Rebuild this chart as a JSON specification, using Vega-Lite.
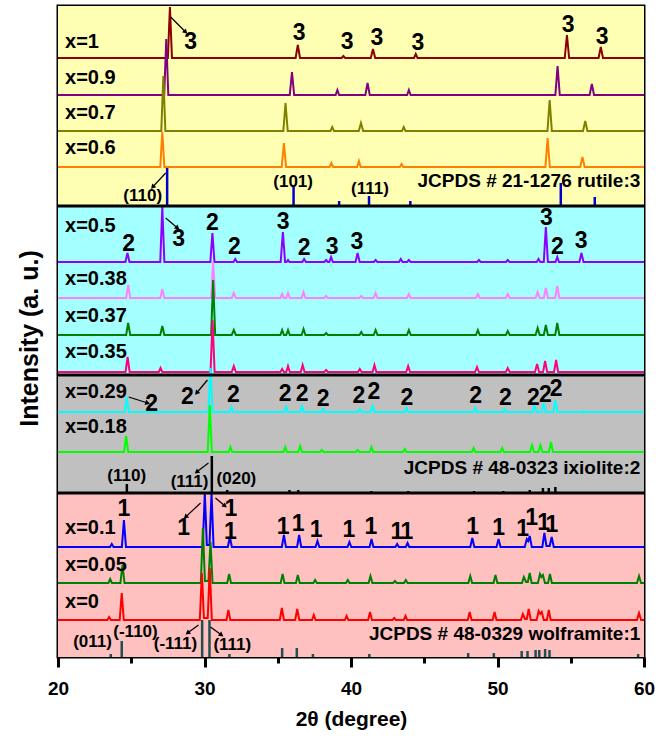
{
"$schema": "https://vega.github.io/schema/vega-lite/v6.json",
"width": 586, "height": 651,
"autosize": {"type": "none"},
"padding": {"left": 58, "top": 6, "right": 23, "bottom": 86},
"background": "white",
"config": {"view": {"stroke": "black", "strokeWidth": 3}, "font": "Liberation Sans"},
"datasets": {
"bands": [
{"band":"y","t":20,"t2":60,"i":474,"i2":674},
{"band":"c","t":20,"t2":60,"i":305,"i2":474},
{"band":"g","t":20,"t2":60,"i":187,"i2":305},
{"band":"p","t":20,"t2":60,"i":23,"i2":187}],
"seps": [
{"t":20,"t2":60,"i":474},{"t":20,"t2":60,"i":305},{"t":20,"t2":60,"i":187}],
"sticks": [
{"ref":"r","t":27.45,"i":474,"i2":512},{"ref":"r","t":36.08,"i":474,"i2":495},{"ref":"r","t":39.19,"i":474,"i2":479},{"ref":"r","t":41.23,"i":474,"i2":484},{"ref":"r","t":44.05,"i":474,"i2":479},{"ref":"r","t":54.32,"i":474,"i2":497},{"ref":"r","t":56.64,"i":474,"i2":483},
{"ref":"i","t":24.7,"i":187,"i2":196},{"ref":"i","t":30.5,"i":187,"i2":224},{"ref":"i","t":31.55,"i":187,"i2":190},{"ref":"i","t":35.8,"i":187,"i2":190},{"ref":"i","t":36.4,"i":187,"i2":190},{"ref":"i","t":41.4,"i":187,"i2":189},{"ref":"i","t":43.9,"i":187,"i2":189},{"ref":"i","t":48.4,"i":187,"i2":189},{"ref":"i","t":50.4,"i":187,"i2":189},{"ref":"i","t":52.2,"i":187,"i2":190},{"ref":"i","t":53.1,"i":187,"i2":192},{"ref":"i","t":53.5,"i":187,"i2":192},{"ref":"i","t":53.95,"i":187,"i2":193},
{"ref":"w","t":23.6,"i":23,"i2":26},{"ref":"w","t":24.35,"i":23,"i2":39},{"ref":"w","t":29.84,"i":23,"i2":60},{"ref":"w","t":30.34,"i":23,"i2":60},{"ref":"w","t":31.7,"i":23,"i2":26},{"ref":"w","t":35.3,"i":23,"i2":32},{"ref":"w","t":36.3,"i":23,"i2":32},{"ref":"w","t":37.4,"i":23,"i2":26},{"ref":"w","t":41.25,"i":23,"i2":26},{"ref":"w","t":48.0,"i":23,"i2":27},{"ref":"w","t":49.75,"i":23,"i2":27},{"ref":"w","t":51.65,"i":23,"i2":29},{"ref":"w","t":52.05,"i":23,"i2":29},{"ref":"w","t":52.6,"i":23,"i2":30},{"ref":"w","t":52.85,"i":23,"i2":30},{"ref":"w","t":53.25,"i":23,"i2":31},{"ref":"w","t":53.55,"i":23,"i2":30},{"ref":"w","t":59.6,"i":23,"i2":26}],
"traces": [
{"s":"x=1","t":20,"i":622},{"s":"x=1","t":27.5,"i":622},{"s":"x=1","t":27.64,"i":673},{"s":"x=1","t":27.78,"i":622},{"s":"x=1","t":36.22,"i":622},{"s":"x=1","t":36.37,"i":635},{"s":"x=1","t":36.52,"i":622},{"s":"x=1","t":39.36,"i":622},{"s":"x=1","t":39.48,"i":624},{"s":"x=1","t":39.6,"i":622},{"s":"x=1","t":41.35,"i":622},{"s":"x=1","t":41.5,"i":631},{"s":"x=1","t":41.65,"i":622},{"s":"x=1","t":44.3,"i":622},{"s":"x=1","t":44.42,"i":626},{"s":"x=1","t":44.54,"i":622},{"s":"x=1","t":54.59,"i":622},{"s":"x=1","t":54.74,"i":645},{"s":"x=1","t":54.89,"i":622},{"s":"x=1","t":56.9,"i":622},{"s":"x=1","t":57.05,"i":633},{"s":"x=1","t":57.2,"i":622},{"s":"x=1","t":60,"i":622},
{"s":"x=0.9","t":20,"i":585},{"s":"x=0.9","t":27.25,"i":585},{"s":"x=0.9","t":27.39,"i":641},{"s":"x=0.9","t":27.53,"i":585},{"s":"x=0.9","t":35.82,"i":585},{"s":"x=0.9","t":35.97,"i":608},{"s":"x=0.9","t":36.12,"i":585},{"s":"x=0.9","t":38.95,"i":585},{"s":"x=0.9","t":39.07,"i":590},{"s":"x=0.9","t":39.19,"i":585},{"s":"x=0.9","t":40.98,"i":585},{"s":"x=0.9","t":41.13,"i":597},{"s":"x=0.9","t":41.28,"i":585},{"s":"x=0.9","t":43.83,"i":585},{"s":"x=0.9","t":43.95,"i":590},{"s":"x=0.9","t":44.07,"i":585},{"s":"x=0.9","t":53.95,"i":585},{"s":"x=0.9","t":54.1,"i":614},{"s":"x=0.9","t":54.25,"i":585},{"s":"x=0.9","t":56.29,"i":585},{"s":"x=0.9","t":56.44,"i":596},{"s":"x=0.9","t":56.59,"i":585},{"s":"x=0.9","t":60,"i":585},
{"s":"x=0.7","t":20,"i":549},{"s":"x=0.7","t":27.05,"i":549},{"s":"x=0.7","t":27.19,"i":604},{"s":"x=0.7","t":27.33,"i":549},{"s":"x=0.7","t":35.38,"i":549},{"s":"x=0.7","t":35.53,"i":577},{"s":"x=0.7","t":35.68,"i":549},{"s":"x=0.7","t":38.6,"i":549},{"s":"x=0.7","t":38.72,"i":553},{"s":"x=0.7","t":38.84,"i":549},{"s":"x=0.7","t":40.53,"i":549},{"s":"x=0.7","t":40.68,"i":557},{"s":"x=0.7","t":40.83,"i":549},{"s":"x=0.7","t":43.48,"i":549},{"s":"x=0.7","t":43.6,"i":553},{"s":"x=0.7","t":43.72,"i":549},{"s":"x=0.7","t":53.41,"i":549},{"s":"x=0.7","t":53.56,"i":580},{"s":"x=0.7","t":53.71,"i":549},{"s":"x=0.7","t":55.84,"i":549},{"s":"x=0.7","t":55.99,"i":559},{"s":"x=0.7","t":56.14,"i":549},{"s":"x=0.7","t":60,"i":549},
{"s":"x=0.6","t":20,"i":513},{"s":"x=0.6","t":26.98,"i":513},{"s":"x=0.6","t":27.12,"i":548},{"s":"x=0.6","t":27.26,"i":513},{"s":"x=0.6","t":35.27,"i":513},{"s":"x=0.6","t":35.42,"i":537},{"s":"x=0.6","t":35.57,"i":513},{"s":"x=0.6","t":38.54,"i":513},{"s":"x=0.6","t":38.66,"i":517},{"s":"x=0.6","t":38.78,"i":513},{"s":"x=0.6","t":40.42,"i":513},{"s":"x=0.6","t":40.54,"i":519},{"s":"x=0.6","t":40.66,"i":513},{"s":"x=0.6","t":43.33,"i":513},{"s":"x=0.6","t":43.45,"i":516},{"s":"x=0.6","t":43.57,"i":513},{"s":"x=0.6","t":53.27,"i":513},{"s":"x=0.6","t":53.42,"i":542},{"s":"x=0.6","t":53.57,"i":513},{"s":"x=0.6","t":55.65,"i":513},{"s":"x=0.6","t":55.8,"i":523},{"s":"x=0.6","t":55.95,"i":513},{"s":"x=0.6","t":60,"i":513},
{"s":"x=0.5","t":20,"i":418},{"s":"x=0.5","t":24.6,"i":418},{"s":"x=0.5","t":24.74,"i":427},{"s":"x=0.5","t":24.88,"i":418},{"s":"x=0.5","t":26.98,"i":418},{"s":"x=0.5","t":27.12,"i":473},{"s":"x=0.5","t":27.26,"i":418},{"s":"x=0.5","t":30.4,"i":418},{"s":"x=0.5","t":30.54,"i":447},{"s":"x=0.5","t":30.68,"i":418},{"s":"x=0.5","t":31.98,"i":418},{"s":"x=0.5","t":32.1,"i":421},{"s":"x=0.5","t":32.22,"i":418},{"s":"x=0.5","t":35.2,"i":418},{"s":"x=0.5","t":35.35,"i":448},{"s":"x=0.5","t":35.5,"i":418},{"s":"x=0.5","t":35.6,"i":418},{"s":"x=0.5","t":35.7,"i":420},{"s":"x=0.5","t":35.8,"i":418},{"s":"x=0.5","t":36.68,"i":418},{"s":"x=0.5","t":36.8,"i":421},{"s":"x=0.5","t":36.92,"i":418},{"s":"x=0.5","t":38.18,"i":418},{"s":"x=0.5","t":38.3,"i":420},{"s":"x=0.5","t":38.42,"i":418},{"s":"x=0.5","t":38.52,"i":418},{"s":"x=0.5","t":38.64,"i":423},{"s":"x=0.5","t":38.76,"i":418},{"s":"x=0.5","t":40.31,"i":418},{"s":"x=0.5","t":40.45,"i":427},{"s":"x=0.5","t":40.59,"i":418},{"s":"x=0.5","t":41.56,"i":418},{"s":"x=0.5","t":41.68,"i":420},{"s":"x=0.5","t":41.8,"i":418},{"s":"x=0.5","t":43.28,"i":418},{"s":"x=0.5","t":43.4,"i":421},{"s":"x=0.5","t":43.52,"i":418},{"s":"x=0.5","t":43.83,"i":418},{"s":"x=0.5","t":43.95,"i":420},{"s":"x=0.5","t":44.07,"i":418},{"s":"x=0.5","t":48.61,"i":418},{"s":"x=0.5","t":48.73,"i":420},{"s":"x=0.5","t":48.85,"i":418},{"s":"x=0.5","t":50.58,"i":418},{"s":"x=0.5","t":50.7,"i":420},{"s":"x=0.5","t":50.82,"i":418},{"s":"x=0.5","t":52.68,"i":418},{"s":"x=0.5","t":52.8,"i":421},{"s":"x=0.5","t":52.92,"i":418},{"s":"x=0.5","t":53.16,"i":418},{"s":"x=0.5","t":53.3,"i":453},{"s":"x=0.5","t":53.44,"i":418},{"s":"x=0.5","t":53.96,"i":418},{"s":"x=0.5","t":54.08,"i":423},{"s":"x=0.5","t":54.2,"i":418},{"s":"x=0.5","t":55.59,"i":418},{"s":"x=0.5","t":55.73,"i":427},{"s":"x=0.5","t":55.87,"i":418},{"s":"x=0.5","t":60,"i":418},
{"s":"x=0.38","t":20,"i":382},{"s":"x=0.38","t":24.65,"i":382},{"s":"x=0.38","t":24.79,"i":395},{"s":"x=0.38","t":24.93,"i":382},{"s":"x=0.38","t":26.98,"i":382},{"s":"x=0.38","t":27.12,"i":391},{"s":"x=0.38","t":27.26,"i":382},{"s":"x=0.38","t":30.45,"i":382},{"s":"x=0.38","t":30.59,"i":418},{"s":"x=0.38","t":30.73,"i":382},{"s":"x=0.38","t":31.86,"i":382},{"s":"x=0.38","t":32.0,"i":387},{"s":"x=0.38","t":32.14,"i":382},{"s":"x=0.38","t":35.18,"i":382},{"s":"x=0.38","t":35.3,"i":386},{"s":"x=0.38","t":35.42,"i":382},{"s":"x=0.38","t":35.58,"i":382},{"s":"x=0.38","t":35.7,"i":387},{"s":"x=0.38","t":35.82,"i":382},{"s":"x=0.38","t":36.63,"i":382},{"s":"x=0.38","t":36.76,"i":388},{"s":"x=0.38","t":36.89,"i":382},{"s":"x=0.38","t":38.18,"i":382},{"s":"x=0.38","t":38.3,"i":384},{"s":"x=0.38","t":38.42,"i":382},{"s":"x=0.38","t":40.58,"i":382},{"s":"x=0.38","t":40.7,"i":384},{"s":"x=0.38","t":40.82,"i":382},{"s":"x=0.38","t":41.55,"i":382},{"s":"x=0.38","t":41.68,"i":387},{"s":"x=0.38","t":41.81,"i":382},{"s":"x=0.38","t":43.82,"i":382},{"s":"x=0.38","t":43.95,"i":386},{"s":"x=0.38","t":44.08,"i":382},{"s":"x=0.38","t":48.53,"i":382},{"s":"x=0.38","t":48.66,"i":386},{"s":"x=0.38","t":48.79,"i":382},{"s":"x=0.38","t":50.57,"i":382},{"s":"x=0.38","t":50.7,"i":386},{"s":"x=0.38","t":50.83,"i":382},{"s":"x=0.38","t":52.6,"i":382},{"s":"x=0.38","t":52.74,"i":388},{"s":"x=0.38","t":52.88,"i":382},{"s":"x=0.38","t":53.16,"i":382},{"s":"x=0.38","t":53.3,"i":392},{"s":"x=0.38","t":53.44,"i":382},{"s":"x=0.38","t":53.94,"i":382},{"s":"x=0.38","t":54.08,"i":394},{"s":"x=0.38","t":54.22,"i":382},{"s":"x=0.38","t":60,"i":382},
{"s":"x=0.37","t":20,"i":345},{"s":"x=0.37","t":24.65,"i":345},{"s":"x=0.37","t":24.79,"i":357},{"s":"x=0.37","t":24.93,"i":345},{"s":"x=0.37","t":26.98,"i":345},{"s":"x=0.37","t":27.12,"i":354},{"s":"x=0.37","t":27.26,"i":345},{"s":"x=0.37","t":30.45,"i":345},{"s":"x=0.37","t":30.59,"i":400},{"s":"x=0.37","t":30.73,"i":345},{"s":"x=0.37","t":31.86,"i":345},{"s":"x=0.37","t":32.0,"i":350},{"s":"x=0.37","t":32.14,"i":345},{"s":"x=0.37","t":35.18,"i":345},{"s":"x=0.37","t":35.3,"i":350},{"s":"x=0.37","t":35.42,"i":345},{"s":"x=0.37","t":35.58,"i":345},{"s":"x=0.37","t":35.7,"i":350},{"s":"x=0.37","t":35.82,"i":345},{"s":"x=0.37","t":36.63,"i":345},{"s":"x=0.37","t":36.76,"i":351},{"s":"x=0.37","t":36.89,"i":345},{"s":"x=0.37","t":38.18,"i":345},{"s":"x=0.37","t":38.3,"i":347},{"s":"x=0.37","t":38.42,"i":345},{"s":"x=0.37","t":40.58,"i":345},{"s":"x=0.37","t":40.7,"i":348},{"s":"x=0.37","t":40.82,"i":345},{"s":"x=0.37","t":41.55,"i":345},{"s":"x=0.37","t":41.68,"i":350},{"s":"x=0.37","t":41.81,"i":345},{"s":"x=0.37","t":43.82,"i":345},{"s":"x=0.37","t":43.95,"i":350},{"s":"x=0.37","t":44.08,"i":345},{"s":"x=0.37","t":48.53,"i":345},{"s":"x=0.37","t":48.66,"i":350},{"s":"x=0.37","t":48.79,"i":345},{"s":"x=0.37","t":50.57,"i":345},{"s":"x=0.37","t":50.7,"i":349},{"s":"x=0.37","t":50.83,"i":345},{"s":"x=0.37","t":52.6,"i":345},{"s":"x=0.37","t":52.74,"i":352},{"s":"x=0.37","t":52.88,"i":345},{"s":"x=0.37","t":53.16,"i":345},{"s":"x=0.37","t":53.3,"i":355},{"s":"x=0.37","t":53.44,"i":345},{"s":"x=0.37","t":53.94,"i":345},{"s":"x=0.37","t":54.08,"i":357},{"s":"x=0.37","t":54.22,"i":345},{"s":"x=0.37","t":60,"i":345},
{"s":"x=0.35","t":20,"i":308},{"s":"x=0.35","t":24.61,"i":308},{"s":"x=0.35","t":24.75,"i":323},{"s":"x=0.35","t":24.89,"i":308},{"s":"x=0.35","t":26.88,"i":308},{"s":"x=0.35","t":27.0,"i":312},{"s":"x=0.35","t":27.12,"i":308},{"s":"x=0.35","t":30.41,"i":308},{"s":"x=0.35","t":30.55,"i":360},{"s":"x=0.35","t":30.69,"i":308},{"s":"x=0.35","t":31.86,"i":308},{"s":"x=0.35","t":32.0,"i":314},{"s":"x=0.35","t":32.14,"i":308},{"s":"x=0.35","t":35.18,"i":308},{"s":"x=0.35","t":35.3,"i":311},{"s":"x=0.35","t":35.42,"i":308},{"s":"x=0.35","t":35.58,"i":308},{"s":"x=0.35","t":35.7,"i":314},{"s":"x=0.35","t":35.82,"i":308},{"s":"x=0.35","t":36.57,"i":308},{"s":"x=0.35","t":36.7,"i":315},{"s":"x=0.35","t":36.83,"i":308},{"s":"x=0.35","t":38.18,"i":308},{"s":"x=0.35","t":38.3,"i":310},{"s":"x=0.35","t":38.42,"i":308},{"s":"x=0.35","t":40.48,"i":308},{"s":"x=0.35","t":40.6,"i":311},{"s":"x=0.35","t":40.72,"i":308},{"s":"x=0.35","t":41.47,"i":308},{"s":"x=0.35","t":41.6,"i":315},{"s":"x=0.35","t":41.73,"i":308},{"s":"x=0.35","t":43.77,"i":308},{"s":"x=0.35","t":43.9,"i":314},{"s":"x=0.35","t":44.03,"i":308},{"s":"x=0.35","t":48.47,"i":308},{"s":"x=0.35","t":48.6,"i":313},{"s":"x=0.35","t":48.73,"i":308},{"s":"x=0.35","t":50.57,"i":308},{"s":"x=0.35","t":50.7,"i":312},{"s":"x=0.35","t":50.83,"i":308},{"s":"x=0.35","t":52.56,"i":308},{"s":"x=0.35","t":52.7,"i":316},{"s":"x=0.35","t":52.84,"i":308},{"s":"x=0.35","t":53.11,"i":308},{"s":"x=0.35","t":53.25,"i":319},{"s":"x=0.35","t":53.39,"i":308},{"s":"x=0.35","t":53.86,"i":308},{"s":"x=0.35","t":54.0,"i":320},{"s":"x=0.35","t":54.14,"i":308},{"s":"x=0.35","t":60,"i":308},
{"s":"x=0.29","t":20,"i":268},{"s":"x=0.29","t":24.56,"i":268},{"s":"x=0.29","t":24.7,"i":283},{"s":"x=0.29","t":24.84,"i":268},{"s":"x=0.29","t":30.27,"i":268},{"s":"x=0.29","t":30.41,"i":312},{"s":"x=0.29","t":30.55,"i":268},{"s":"x=0.29","t":31.72,"i":268},{"s":"x=0.29","t":31.84,"i":273},{"s":"x=0.29","t":31.96,"i":268},{"s":"x=0.29","t":35.46,"i":268},{"s":"x=0.29","t":35.58,"i":273},{"s":"x=0.29","t":35.7,"i":268},{"s":"x=0.29","t":36.52,"i":268},{"s":"x=0.29","t":36.65,"i":274},{"s":"x=0.29","t":36.78,"i":268},{"s":"x=0.29","t":37.98,"i":268},{"s":"x=0.29","t":38.1,"i":271},{"s":"x=0.29","t":38.22,"i":268},{"s":"x=0.29","t":40.48,"i":268},{"s":"x=0.29","t":40.6,"i":271},{"s":"x=0.29","t":40.72,"i":268},{"s":"x=0.29","t":41.34,"i":268},{"s":"x=0.29","t":41.47,"i":274},{"s":"x=0.29","t":41.6,"i":268},{"s":"x=0.29","t":43.67,"i":268},{"s":"x=0.29","t":43.79,"i":272},{"s":"x=0.29","t":43.91,"i":268},{"s":"x=0.29","t":48.36,"i":268},{"s":"x=0.29","t":48.48,"i":272},{"s":"x=0.29","t":48.6,"i":268},{"s":"x=0.29","t":50.38,"i":268},{"s":"x=0.29","t":50.5,"i":271},{"s":"x=0.29","t":50.62,"i":268},{"s":"x=0.29","t":52.39,"i":268},{"s":"x=0.29","t":52.52,"i":275},{"s":"x=0.29","t":52.65,"i":268},{"s":"x=0.29","t":53.02,"i":268},{"s":"x=0.29","t":53.15,"i":277},{"s":"x=0.29","t":53.28,"i":268},{"s":"x=0.29","t":53.81,"i":268},{"s":"x=0.29","t":53.95,"i":280},{"s":"x=0.29","t":54.09,"i":268},{"s":"x=0.29","t":55.78,"i":268},{"s":"x=0.29","t":55.88,"i":269},{"s":"x=0.29","t":55.98,"i":268},{"s":"x=0.29","t":60,"i":268},
{"s":"x=0.18","t":20,"i":228},{"s":"x=0.18","t":24.51,"i":228},{"s":"x=0.18","t":24.65,"i":244},{"s":"x=0.18","t":24.79,"i":228},{"s":"x=0.18","t":30.22,"i":228},{"s":"x=0.18","t":30.36,"i":275},{"s":"x=0.18","t":30.5,"i":228},{"s":"x=0.18","t":31.65,"i":228},{"s":"x=0.18","t":31.77,"i":233},{"s":"x=0.18","t":31.89,"i":228},{"s":"x=0.18","t":35.39,"i":228},{"s":"x=0.18","t":35.51,"i":233},{"s":"x=0.18","t":35.63,"i":228},{"s":"x=0.18","t":36.4,"i":228},{"s":"x=0.18","t":36.53,"i":234},{"s":"x=0.18","t":36.66,"i":228},{"s":"x=0.18","t":37.88,"i":228},{"s":"x=0.18","t":38.0,"i":230},{"s":"x=0.18","t":38.12,"i":228},{"s":"x=0.18","t":40.33,"i":228},{"s":"x=0.18","t":40.45,"i":230},{"s":"x=0.18","t":40.57,"i":228},{"s":"x=0.18","t":41.28,"i":228},{"s":"x=0.18","t":41.4,"i":233},{"s":"x=0.18","t":41.52,"i":228},{"s":"x=0.18","t":43.55,"i":228},{"s":"x=0.18","t":43.67,"i":231},{"s":"x=0.18","t":43.79,"i":228},{"s":"x=0.18","t":48.25,"i":228},{"s":"x=0.18","t":48.37,"i":232},{"s":"x=0.18","t":48.49,"i":228},{"s":"x=0.18","t":50.2,"i":228},{"s":"x=0.18","t":50.32,"i":232},{"s":"x=0.18","t":50.44,"i":228},{"s":"x=0.18","t":52.22,"i":228},{"s":"x=0.18","t":52.36,"i":235},{"s":"x=0.18","t":52.5,"i":228},{"s":"x=0.18","t":52.79,"i":228},{"s":"x=0.18","t":52.93,"i":235},{"s":"x=0.18","t":53.07,"i":228},{"s":"x=0.18","t":53.51,"i":228},{"s":"x=0.18","t":53.65,"i":238},{"s":"x=0.18","t":53.79,"i":228},{"s":"x=0.18","t":60,"i":228},
{"s":"x=0.1","t":20,"i":133},{"s":"x=0.1","t":23.55,"i":133},{"s":"x=0.1","t":23.67,"i":136},{"s":"x=0.1","t":23.79,"i":133},{"s":"x=0.1","t":24.36,"i":133},{"s":"x=0.1","t":24.5,"i":160},{"s":"x=0.1","t":24.64,"i":133},{"s":"x=0.1","t":29.88,"i":133},{"s":"x=0.1","t":30.02,"i":187},{"s":"x=0.1","t":30.16,"i":135},{"s":"x=0.1","t":30.34,"i":135},{"s":"x=0.1","t":30.48,"i":187},{"s":"x=0.1","t":30.62,"i":133},{"s":"x=0.1","t":31.59,"i":133},{"s":"x=0.1","t":31.73,"i":143},{"s":"x=0.1","t":31.87,"i":133},{"s":"x=0.1","t":35.28,"i":133},{"s":"x=0.1","t":35.42,"i":145},{"s":"x=0.1","t":35.56,"i":133},{"s":"x=0.1","t":36.32,"i":133},{"s":"x=0.1","t":36.46,"i":145},{"s":"x=0.1","t":36.6,"i":133},{"s":"x=0.1","t":37.58,"i":133},{"s":"x=0.1","t":37.71,"i":139},{"s":"x=0.1","t":37.84,"i":133},{"s":"x=0.1","t":39.76,"i":133},{"s":"x=0.1","t":39.89,"i":138},{"s":"x=0.1","t":40.02,"i":133},{"s":"x=0.1","t":41.27,"i":133},{"s":"x=0.1","t":41.4,"i":141},{"s":"x=0.1","t":41.53,"i":133},{"s":"x=0.1","t":43.03,"i":133},{"s":"x=0.1","t":43.15,"i":136},{"s":"x=0.1","t":43.27,"i":133},{"s":"x=0.1","t":43.74,"i":133},{"s":"x=0.1","t":43.86,"i":137},{"s":"x=0.1","t":43.98,"i":133},{"s":"x=0.1","t":48.14,"i":133},{"s":"x=0.1","t":48.28,"i":142},{"s":"x=0.1","t":48.42,"i":133},{"s":"x=0.1","t":49.93,"i":133},{"s":"x=0.1","t":50.07,"i":141},{"s":"x=0.1","t":50.21,"i":133},{"s":"x=0.1","t":51.86,"i":133},{"s":"x=0.1","t":52.0,"i":141},{"s":"x=0.1","t":52.1,"i":139},{"s":"x=0.1","t":52.2,"i":144},{"s":"x=0.1","t":52.34,"i":133},{"s":"x=0.1","t":53.06,"i":133},{"s":"x=0.1","t":53.2,"i":147},{"s":"x=0.1","t":53.34,"i":134},{"s":"x=0.1","t":53.56,"i":134},{"s":"x=0.1","t":53.7,"i":143},{"s":"x=0.1","t":53.84,"i":133},{"s":"x=0.1","t":60,"i":133},
{"s":"x=0.05","t":20,"i":97},{"s":"x=0.05","t":23.44,"i":97},{"s":"x=0.05","t":23.56,"i":101},{"s":"x=0.05","t":23.68,"i":97},{"s":"x=0.05","t":24.26,"i":97},{"s":"x=0.05","t":24.4,"i":115},{"s":"x=0.05","t":24.54,"i":97},{"s":"x=0.05","t":29.75,"i":97},{"s":"x=0.05","t":29.89,"i":152},{"s":"x=0.05","t":30.03,"i":99},{"s":"x=0.05","t":30.27,"i":99},{"s":"x=0.05","t":30.41,"i":138},{"s":"x=0.05","t":30.55,"i":97},{"s":"x=0.05","t":31.55,"i":97},{"s":"x=0.05","t":31.68,"i":106},{"s":"x=0.05","t":31.81,"i":97},{"s":"x=0.05","t":35.2,"i":97},{"s":"x=0.05","t":35.33,"i":106},{"s":"x=0.05","t":35.46,"i":97},{"s":"x=0.05","t":36.24,"i":97},{"s":"x=0.05","t":36.37,"i":105},{"s":"x=0.05","t":36.5,"i":97},{"s":"x=0.05","t":37.43,"i":97},{"s":"x=0.05","t":37.55,"i":100},{"s":"x=0.05","t":37.67,"i":97},{"s":"x=0.05","t":39.66,"i":97},{"s":"x=0.05","t":39.78,"i":100},{"s":"x=0.05","t":39.9,"i":97},{"s":"x=0.05","t":41.2,"i":97},{"s":"x=0.05","t":41.33,"i":104},{"s":"x=0.05","t":41.46,"i":97},{"s":"x=0.05","t":42.88,"i":97},{"s":"x=0.05","t":43.0,"i":99},{"s":"x=0.05","t":43.12,"i":97},{"s":"x=0.05","t":43.62,"i":97},{"s":"x=0.05","t":43.74,"i":100},{"s":"x=0.05","t":43.86,"i":97},{"s":"x=0.05","t":48.01,"i":97},{"s":"x=0.05","t":48.14,"i":104},{"s":"x=0.05","t":48.27,"i":97},{"s":"x=0.05","t":49.73,"i":97},{"s":"x=0.05","t":49.86,"i":105},{"s":"x=0.05","t":49.99,"i":97},{"s":"x=0.05","t":51.67,"i":97},{"s":"x=0.05","t":51.8,"i":103},{"s":"x=0.05","t":51.95,"i":98},{"s":"x=0.05","t":52.07,"i":98},{"s":"x=0.05","t":52.2,"i":107},{"s":"x=0.05","t":52.33,"i":97},{"s":"x=0.05","t":52.76,"i":97},{"s":"x=0.05","t":52.9,"i":106},{"s":"x=0.05","t":53.0,"i":103},{"s":"x=0.05","t":53.1,"i":105},{"s":"x=0.05","t":53.24,"i":97},{"s":"x=0.05","t":53.45,"i":97},{"s":"x=0.05","t":53.58,"i":106},{"s":"x=0.05","t":53.71,"i":97},{"s":"x=0.05","t":59.52,"i":97},{"s":"x=0.05","t":59.66,"i":104},{"s":"x=0.05","t":59.8,"i":97},{"s":"x=0.05","t":60,"i":97},
{"s":"x=0","t":20,"i":60},{"s":"x=0","t":23.37,"i":60},{"s":"x=0","t":23.49,"i":63},{"s":"x=0","t":23.61,"i":60},{"s":"x=0","t":24.21,"i":60},{"s":"x=0","t":24.35,"i":87},{"s":"x=0","t":24.49,"i":60},{"s":"x=0","t":29.68,"i":60},{"s":"x=0","t":29.82,"i":107},{"s":"x=0","t":29.96,"i":62},{"s":"x=0","t":30.22,"i":62},{"s":"x=0","t":30.36,"i":112},{"s":"x=0","t":30.5,"i":60},{"s":"x=0","t":31.5,"i":60},{"s":"x=0","t":31.63,"i":70},{"s":"x=0","t":31.76,"i":60},{"s":"x=0","t":35.14,"i":60},{"s":"x=0","t":35.28,"i":72},{"s":"x=0","t":35.42,"i":60},{"s":"x=0","t":36.19,"i":60},{"s":"x=0","t":36.33,"i":71},{"s":"x=0","t":36.47,"i":60},{"s":"x=0","t":37.34,"i":60},{"s":"x=0","t":37.46,"i":65},{"s":"x=0","t":37.58,"i":60},{"s":"x=0","t":39.58,"i":60},{"s":"x=0","t":39.7,"i":64},{"s":"x=0","t":39.82,"i":60},{"s":"x=0","t":41.17,"i":60},{"s":"x=0","t":41.3,"i":68},{"s":"x=0","t":41.43,"i":60},{"s":"x=0","t":42.83,"i":60},{"s":"x=0","t":42.95,"i":62},{"s":"x=0","t":43.07,"i":60},{"s":"x=0","t":43.6,"i":60},{"s":"x=0","t":43.72,"i":64},{"s":"x=0","t":43.84,"i":60},{"s":"x=0","t":47.97,"i":60},{"s":"x=0","t":48.1,"i":68},{"s":"x=0","t":48.23,"i":60},{"s":"x=0","t":49.67,"i":60},{"s":"x=0","t":49.8,"i":68},{"s":"x=0","t":49.93,"i":60},{"s":"x=0","t":51.6,"i":60},{"s":"x=0","t":51.73,"i":66},{"s":"x=0","t":51.88,"i":61},{"s":"x=0","t":52.0,"i":61},{"s":"x=0","t":52.13,"i":71},{"s":"x=0","t":52.27,"i":60},{"s":"x=0","t":52.67,"i":60},{"s":"x=0","t":52.81,"i":69},{"s":"x=0","t":52.92,"i":66},{"s":"x=0","t":53.02,"i":68},{"s":"x=0","t":53.16,"i":60},{"s":"x=0","t":53.37,"i":60},{"s":"x=0","t":53.5,"i":70},{"s":"x=0","t":53.63,"i":60},{"s":"x=0","t":59.52,"i":60},{"s":"x=0","t":59.66,"i":67},{"s":"x=0","t":59.8,"i":60},{"s":"x=0","t":60,"i":60}],
"labels": [
{"k":"s","t":20.48,"i":638,"txt":"x=1"},{"k":"s","t":20.48,"i":602,"txt":"x=0.9"},{"k":"s","t":20.48,"i":567,"txt":"x=0.7"},{"k":"s","t":20.48,"i":532,"txt":"x=0.6"},{"k":"s","t":20.48,"i":454,"txt":"x=0.5"},{"k":"s","t":20.48,"i":401,"txt":"x=0.38"},{"k":"s","t":20.48,"i":364,"txt":"x=0.37"},{"k":"s","t":20.48,"i":328,"txt":"x=0.35"},{"k":"s","t":20.48,"i":288,"txt":"x=0.29"},{"k":"s","t":20.48,"i":253,"txt":"x=0.18"},{"k":"s","t":20.48,"i":152,"txt":"x=0.1"},{"k":"s","t":20.48,"i":115,"txt":"x=0.05"},{"k":"s","t":20.48,"i":78,"txt":"x=0"},
{"k":"n","t":29.05,"i":638,"txt":"3"},{"k":"n","t":36.46,"i":647,"txt":"3"},{"k":"n","t":39.73,"i":638,"txt":"3"},{"k":"n","t":41.77,"i":642,"txt":"3"},{"k":"n","t":44.56,"i":637,"txt":"3"},{"k":"n","t":54.83,"i":655,"txt":"3"},{"k":"n","t":57.14,"i":643,"txt":"3"},
{"k":"n","t":24.83,"i":436,"txt":"2"},{"k":"n","t":28.23,"i":441,"txt":"3"},{"k":"n","t":30.54,"i":457,"txt":"2"},{"k":"n","t":32.04,"i":433,"txt":"2"},{"k":"n","t":35.37,"i":458,"txt":"3"},{"k":"n","t":36.8,"i":432,"txt":"2"},{"k":"n","t":38.71,"i":433,"txt":"3"},{"k":"n","t":40.41,"i":438,"txt":"3"},{"k":"n","t":53.33,"i":462,"txt":"3"},{"k":"n","t":54.08,"i":433,"txt":"2"},{"k":"n","t":55.71,"i":439,"txt":"3"},
{"k":"n","t":26.39,"i":276,"txt":"2"},{"k":"n","t":28.84,"i":283,"txt":"2"},{"k":"n","t":31.97,"i":285,"txt":"2"},{"k":"n","t":35.51,"i":286,"txt":"2"},{"k":"n","t":36.67,"i":286,"txt":"2"},{"k":"n","t":38.1,"i":281,"txt":"2"},{"k":"n","t":40.54,"i":284,"txt":"2"},{"k":"n","t":41.56,"i":288,"txt":"2"},{"k":"n","t":43.81,"i":282,"txt":"2"},{"k":"n","t":48.5,"i":284,"txt":"2"},{"k":"n","t":50.54,"i":282,"txt":"2"},{"k":"n","t":52.45,"i":282,"txt":"2"},{"k":"n","t":53.27,"i":285,"txt":"2"},{"k":"n","t":54.01,"i":291,"txt":"2"},
{"k":"n","t":24.49,"i":171,"txt":"1"},{"k":"n","t":28.57,"i":152,"txt":"1"},{"k":"n","t":31.8,"i":171,"txt":"1"},{"k":"n","t":31.77,"i":148,"txt":"1"},{"k":"n","t":35.37,"i":153,"txt":"1"},{"k":"n","t":36.39,"i":156,"txt":"1"},{"k":"n","t":37.62,"i":150,"txt":"1"},{"k":"n","t":39.86,"i":150,"txt":"1"},{"k":"n","t":41.36,"i":153,"txt":"1"},{"k":"n","t":43.13,"i":148,"txt":"1"},{"k":"n","t":43.81,"i":148,"txt":"1"},{"k":"n","t":48.3,"i":153,"txt":"1"},{"k":"n","t":50.07,"i":152,"txt":"1"},{"k":"n","t":51.72,"i":151,"txt":"1"},{"k":"n","t":52.33,"i":162,"txt":"1"},{"k":"n","t":53.15,"i":157,"txt":"1"},{"k":"n","t":53.72,"i":155,"txt":"1"},
{"k":"h","t":25.78,"i":484,"txt":"(110)"},{"k":"h","t":36.05,"i":498,"txt":"(101)"},{"k":"h","t":41.29,"i":491,"txt":"(111)"},
{"k":"h","t":24.69,"i":204,"txt":"(110)"},{"k":"h","t":28.98,"i":198,"txt":"(111)"},{"k":"h","t":32.18,"i":201,"txt":"(020)"},
{"k":"h","t":22.36,"i":38,"txt":"(011)"},{"k":"h","t":25.29,"i":48,"txt":"(-110)"},{"k":"h","t":28.02,"i":36,"txt":"(-111)"},{"k":"h","t":31.9,"i":35,"txt":"(111)"},
{"k":"j","t":59.75,"i":499,"txt":"JCPDS # 21-1276 rutile:3"},{"k":"j","t":59.75,"i":212,"txt":"JCPDS # 48-0323 ixiolite:2"},{"k":"j","t":59.75,"i":46,"txt":"JCPDS # 48-0329 wolframite:1"}],
"arrows": [
{"t":27.69,"i":663,"t2":28.71,"i2":648},{"t":27.35,"i":507,"t2":26.46,"i2":493},{"t":27.35,"i":462,"t2":28.16,"i2":452},{"t":24.83,"i":283,"t2":26.12,"i2":277},{"t":30.2,"i":300,"t2":29.46,"i2":287},{"t":30.27,"i":217,"t2":29.46,"i2":208},{"t":29.73,"i":177,"t2":28.71,"i2":163},{"t":30.75,"i":182,"t2":31.4,"i2":174},{"t":29.59,"i":55,"t2":28.84,"i2":47},{"t":30.41,"i":53,"t2":31.16,"i2":45}]
},
"encoding": {
"x": {"field":"t","type":"quantitative","scale":{"domain":[20,60],"nice":false,"zero":false},"title":"2θ (degree)",
 "axis":{"values":[20,25,30,35,40,45,50,55,60],"labelExpr":"datum.value % 10 === 0 ? datum.label : ''","grid":false,"domain":false,"tickColor":"black","tickWidth":3,"tickSize":{"condition":{"test":"datum.value % 10 === 0","value":10},"value":6},"labelFontSize":19,"labelFontWeight":"bold","labelColor":"black","labelPadding":12,"labelFlush":false,"titleFontSize":21,"titleFontWeight":"bold","titleColor":"black","titlePadding":10}},
"y": {"field":"i","type":"quantitative","scale":{"domain":[23,674],"nice":false,"zero":false},"title":"Intensity (a. u.)",
 "axis":{"labels":false,"ticks":false,"domain":false,"grid":false,"titleFontSize":25,"titleFontWeight":"bold","titleColor":"black","titlePadding":16,"titleY":332}}
},
"layer": [
{"data":{"name":"bands"},"mark":{"type":"rect"},"encoding":{"x2":{"field":"t2"},"y2":{"field":"i2"},"color":{"field":"band","type":"nominal","scale":{"domain":["y","c","g","p"],"range":["#FFFFB4","#A4FFFF","#C0C0C0","#FFC0C0"]},"legend":null}}},
{"data":{"name":"sticks"},"mark":{"type":"rule","strokeWidth":2.5},"encoding":{"y2":{"field":"i2"},"color":{"field":"ref","type":"nominal","scale":{"domain":["r","i","w"],"range":["#0000CC","#000000","#1F4F4F"]},"legend":null}}},
{"data":{"name":"traces"},"mark":{"type":"line","strokeWidth":2},"encoding":{"color":{"field":"s","type":"nominal","scale":{"domain":["x=1","x=0.9","x=0.7","x=0.6","x=0.5","x=0.38","x=0.37","x=0.35","x=0.29","x=0.18","x=0.1","x=0.05","x=0"],"range":["#8B0000","#800080","#808000","#FF8000","#8C00FF","#FF80FF","#008000","#FF0080","#00FFFF","#00FF00","#0000FF","#008000","#FF0000"]},"legend":null}}},
{"data":{"name":"seps"},"mark":{"type":"rule","strokeWidth":3,"color":"black"},"encoding":{"x2":{"field":"t2"}}},
{"data":{"name":"labels"},"transform":[{"filter":"datum.k === 's'"}],"mark":{"type":"text","align":"left","baseline":"middle","fontSize":20,"fontWeight":"bold","color":"black"},"encoding":{"text":{"field":"txt"}}},
{"data":{"name":"labels"},"transform":[{"filter":"datum.k === 'n'"}],"mark":{"type":"text","align":"center","baseline":"middle","fontSize":23,"fontWeight":"bold","color":"black"},"encoding":{"text":{"field":"txt"}}},
{"data":{"name":"labels"},"transform":[{"filter":"datum.k === 'h'"}],"mark":{"type":"text","align":"center","baseline":"middle","fontSize":17,"fontWeight":"bold","color":"black"},"encoding":{"text":{"field":"txt"}}},
{"data":{"name":"labels"},"transform":[{"filter":"datum.k === 'j'"}],"mark":{"type":"text","align":"right","baseline":"middle","fontSize":19,"fontWeight":"bold","color":"black"},"encoding":{"text":{"field":"txt"}}},
{"data":{"name":"arrows"},"mark":{"type":"rule","strokeWidth":1.2,"color":"black"},"encoding":{"x2":{"field":"t2"},"y2":{"field":"i2"}}},
{"data":{"name":"arrows"},"transform":[{"calculate":"atan2((datum.t2-datum.t)*14.65, datum.i2-datum.i)*180/PI","as":"ang"},{"calculate":"datum.t2","as":"t"},{"calculate":"datum.i2","as":"i"}],"mark":{"type":"point","shape":"triangle-up","filled":true,"size":30,"color":"black","opacity":1},"encoding":{"angle":{"field":"ang","type":"quantitative","scale":null}}}
],
"resolve": {"scale": {"color": "independent"}}
}
